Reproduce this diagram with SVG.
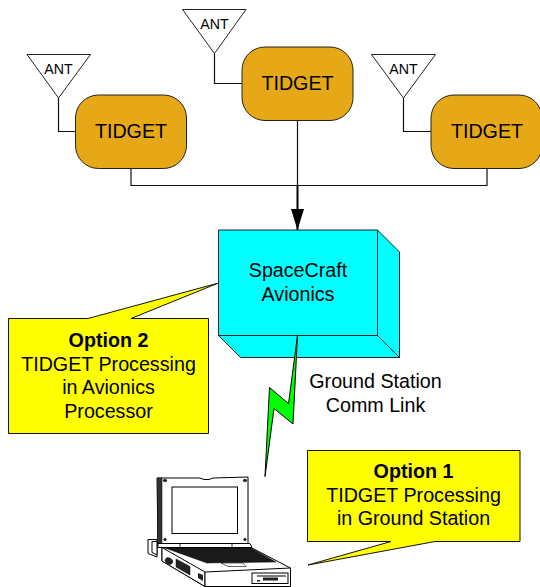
<svg xmlns="http://www.w3.org/2000/svg" width="540" height="587" viewBox="0 0 540 587">
<defs>
<marker id="arrow" markerUnits="userSpaceOnUse" markerWidth="22" markerHeight="14" refX="21" refY="6.500" orient="auto"><path d="M0 0L21 6.500L0 13Z" fill="#000"/></marker>
</defs>
<style>
text{font-family:"Liberation Sans",Arial,sans-serif;fill:#000;text-anchor:middle}
.t{font-size:19.700px}.a{font-size:14.200px}.l{font-size:19.700px}.b{font-weight:bold}
.box{fill:#e6a817;stroke:#222;stroke-width:1}
.ant{fill:#fff;stroke:#222;stroke-width:1}
.ln{fill:none;stroke:#111;stroke-width:1.200}
.call{fill:#ffff00;stroke:#111;stroke-width:1}
.cy{fill:#00ffff;stroke:#222;stroke-width:1}
.lp{fill:#fff;stroke:#000;stroke-width:1}
.d{fill:#222;stroke:#000;stroke-width:.5}
</style>
<g id="connectors">
<path class="ln" d="M58.500 98V131.500H75"/>
<path class="ln" d="M214.500 53.500V83.500H242"/>
<path class="ln" d="M403.500 98V131.500H431"/>
<path class="ln" d="M131 168V185.500H487V168"/>
<path class="ln" d="M297.500 120V185"/>
<path d="M297.500 185V230" fill="none" stroke="#000" stroke-width="2" marker-end="url(#arrow)"/>
</g>
<g id="ant1"><path class="ant" d="M27 54.500H90.500L58.500 98Z"/><text class="a" x="58.500" y="74">ANT</text></g>
<g id="ant2"><path class="ant" d="M182.500 9.500H246L214.500 53.500Z"/><text class="a" x="214.500" y="29">ANT</text></g>
<g id="ant3"><path class="ant" d="M371.500 54.500H435.500L403.500 98Z"/><text class="a" x="403.500" y="74">ANT</text></g>
<g id="tidget1"><rect class="box" x="75.500" y="95" width="111" height="73.500" rx="23" ry="23"/><text class="t" x="131" y="138">TIDGET</text></g>
<g id="tidget2"><rect class="box" x="242" y="47" width="111" height="73.500" rx="23" ry="23"/><text class="t" x="297.500" y="90">TIDGET</text></g>
<g id="tidget3"><rect class="box" x="431" y="95" width="111" height="73.500" rx="23" ry="23"/><text class="t" x="487" y="138">TIDGET</text></g>
<g id="avionics">
<path class="cy" d="M218.500 230H377.500V335.500H218.500Z"/>
<path class="cy" d="M377.500 230L399.500 252V357.500L377.500 335.500Z"/>
<path class="cy" d="M218.500 335.500H377.500L399.500 357.500H240.500Z"/>
<text class="l" x="298" y="277">SpaceCraft</text>
<text class="l" x="298" y="301">Avionics</text>
</g>
<g id="link">
<path d="M297.500 335.500L288.500 403.500L269.500 387.500L265 476.500L274 408.500L293 424L297.500 335.500Z" fill="#00ff00" stroke="#000" stroke-width="1"/>
<text class="l" x="375.500" y="388">Ground Station</text>
<text class="l" x="375.500" y="412">Comm Link</text>
</g>
<g id="option2">
<path class="call" d="M8.500 318.500H88L218.500 283L131 318.500H208.500V433.500H8.500Z"/>
<text class="l b" x="108.500" y="347">Option 2</text>
<text class="l" x="108.500" y="371">TIDGET Processing</text>
<text class="l" x="108.500" y="394">in Avionics</text>
<text class="l" x="108.500" y="418">Processor</text>
</g>
<g id="option1">
<path class="call" d="M307.500 450.500H520V541.500H435L308 565L391 541.500H307.500Z"/>
<text class="l b" x="413.500" y="478">Option 1</text>
<text class="l" x="413.500" y="502">TIDGET Processing</text>
<text class="l" x="413.500" y="525">in Ground Station</text>
</g>
<g id="laptop">
<path class="lp" d="M148 539.500H157V557L148 553.500Z"/>
<path class="lp" d="M152 541.500H157V555L152 552.500Z"/>
<path class="lp" d="M157 478H200L204 479.500H209L213 478L248 477V544H158Z"/>
<path d="M157.500 478H162V544H157.500Z" fill="#333" stroke="#000" stroke-width=".5"/>
<rect class="lp" x="172" y="487" width="65.500" height="46.500" stroke-width="1.200"/>
<ellipse class="d" cx="165" cy="480.500" rx="1.800" ry="1.300"/>
<ellipse class="d" cx="245" cy="480.500" rx="1.800" ry="1.300"/>
<ellipse class="d" cx="165" cy="539.500" rx="1.300" ry="1.300"/>
<ellipse class="d" cx="245" cy="539.500" rx="1.300" ry="1.300"/>
<path class="lp" d="M158 543.500H250L252 547.500H158Z"/>
<path d="M180 543.500V547.500M232 543.500V547.500" stroke="#000" stroke-width=".8"/>
<path class="lp" d="M162 547.500H251L290.500 568V586.500H205L162 561Z"/>
<path d="M165 548H251L276 562L207 563Z" fill="#1a1a1a" stroke="#000" stroke-width=".5"/>
<path class="lp" d="M162 547.500L205 572V586.500L162 561Z"/>
<path class="lp" d="M205 572L290.500 568V586.500H205Z"/>
<path d="M221 563H243L246 566.500H228Z" fill="#fff" stroke="#000" stroke-width=".6"/>
<rect x="252" y="573" width="36" height="10.500" fill="#fff" stroke="#000" stroke-width="1"/>
<path d="M257 576H286" stroke="#000" stroke-width="1"/>
<rect x="263" y="577.500" width="15" height="3" fill="#222"/>
<rect x="257" y="580" width="3" height="1.500" fill="#222"/>
<ellipse class="d" cx="169" cy="561" rx="4" ry="3" transform="rotate(30 169 561)"/>
<path d="M176 559L190 566.500V575L176 567Z" fill="#222" stroke="#000" stroke-width=".5"/>
<path d="M198 573L203 575V581L198 578Z" fill="#222"/>
</g>
</svg>
